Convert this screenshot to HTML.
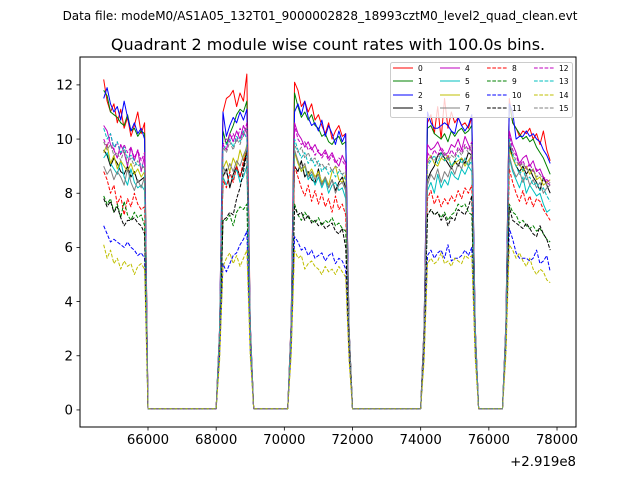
<!DOCTYPE html>
<html><head><meta charset="utf-8"><style>
body{margin:0;background:#fff;}
svg{display:block;font-family:"DejaVu Sans","Liberation Sans",sans-serif;}
</style></head><body>
<svg id="chart" width="640" height="480" xmlns="http://www.w3.org/2000/svg">
<rect width="640" height="480" fill="#fff"/>
<text x="320" y="20" font-size="12" text-anchor="middle">Data file: modeM0/AS1A05_132T01_9000002828_18993cztM0_level2_quad_clean.evt</text>
<text x="328" y="50" font-size="16" text-anchor="middle">Quadrant 2 module wise count rates with 100.0s bins.</text>
<g id="plot"></g>
<rect x="80" y="57" width="496" height="370" fill="none" stroke="#000" stroke-width="1"/>
<g id="ticks"></g>
<text x="576" y="466" font-size="13.3" text-anchor="end">+2.919e8</text>
<g id="legend"></g>
</svg>
<script>
const times=[64700,64800,64900,65000,65100,65200,65300,65400,65500,65600,65700,65800,65900,66000,
68000,68100,68200,68300,68400,68500,68600,68700,68800,68900,69000,69100,
70100,70200,70300,70400,70500,70600,70700,70800,70900,71000,71100,71200,71300,71400,71500,71600,71700,71800,71900,72000,
74000,74100,74200,74300,74400,74500,74600,74700,74800,74900,75000,75100,75200,75300,75400,75500,75600,75700,
76400,76500,76600,76700,76800,76900,77000,77100,77200,77300,77400,77500,77600,77700,77800];
const s0=[12.2,11.4,11.0,11.3,10.6,11.1,10.4,10.8,10.1,10.5,11.0,10.2,10.6,0.05, 0.05,3.0,11.0,11.5,11.6,11.8,11.2,11.7,11.4,12.4,3.2,0.05, 0.05,3.3,12.1,11.8,11.2,11.4,11.0,11.3,10.7,10.9,10.5,10.2,10.6,10.0,10.3,10.5,10.1,10.2,3.0,0.05, 0.05,3.1,10.6,10.9,10.2,11.2,10.0,11.5,10.4,11.0,10.6,10.8,10.5,10.6,10.4,10.8,3.1,0.05, 0.05,3.2,11.5,10.6,10.4,10.1,10.3,10.2,10.4,10.0,10.2,9.8,10.3,9.6,9.2];
const s1=[11.8,11.6,11.0,10.9,10.8,10.6,10.5,10.9,10.3,10.4,10.1,10.3,10.2,0.05, 0.05,2.9,10.3,9.8,10.2,10.5,10.9,11.1,11.0,11.4,3.1,0.05, 0.05,3.2,11.7,11.2,10.8,11.0,10.7,10.9,10.5,10.4,10.1,10.2,9.9,9.8,10.0,10.1,9.8,9.9,3.0,0.05, 0.05,3.0,10.4,10.5,10.2,10.1,10.0,10.2,9.9,10.3,10.1,10.3,10.4,10.2,10.3,10.5,3.0,0.05, 0.05,3.1,11.3,10.6,10.4,10.2,10.0,10.1,9.9,10.0,9.7,9.5,9.3,9.0,8.7];
const s2=[11.5,11.9,11.3,11.0,11.2,10.7,11.4,10.8,10.3,10.6,10.2,10.4,10.0,0.05, 0.05,3.0,11.0,10.1,10.5,10.8,10.6,11.0,10.7,11.1,3.2,0.05, 0.05,3.2,11.0,11.3,10.9,11.4,10.8,10.5,10.6,10.3,10.7,10.1,10.5,10.2,9.8,10.3,9.9,10.2,3.0,0.05, 0.05,3.1,11.0,10.6,10.4,10.4,10.5,10.6,10.5,10.3,10.2,10.8,10.5,10.3,10.5,10.9,3.1,0.05, 0.05,3.2,11.3,11.0,10.0,10.1,10.1,10.3,10.1,10.2,10.0,9.9,9.6,9.4,9.1];
const s3=[9.6,9.4,9.0,9.3,9.1,8.8,8.7,9.0,8.6,8.8,8.4,8.5,8.6,0.05, 0.05,2.8,8.6,8.9,8.2,8.7,9.0,8.6,9.0,9.6,3.0,0.05, 0.05,3.0,9.0,8.8,9.2,8.6,8.8,8.5,8.4,8.9,8.3,8.6,8.2,8.5,8.1,8.4,8.6,8.2,2.9,0.05, 0.05,2.9,8.5,8.8,9.0,9.4,9.5,9.3,9.1,8.9,9.2,9.0,9.3,9.1,9.5,9.4,3.0,0.05, 0.05,3.0,9.8,9.3,9.0,8.8,9.0,8.7,8.9,8.6,8.4,8.1,8.6,8.3,8.0];
const s4=[10.5,10.3,9.8,9.6,9.3,9.8,9.5,9.0,9.7,9.2,9.6,8.8,9.4,0.05, 0.05,2.9,9.8,9.6,10.2,9.9,10.3,10.0,10.5,10.2,3.1,0.05, 0.05,3.1,10.6,10.2,10.0,9.7,9.9,9.6,9.8,9.5,9.4,9.6,9.3,9.5,9.2,9.0,9.4,9.1,2.9,0.05, 0.05,3.0,9.8,9.6,9.7,9.9,9.6,9.4,9.5,9.8,9.7,10.0,9.6,10.1,9.8,9.5,3.0,0.05, 0.05,3.1,10.3,9.8,9.5,9.1,9.3,9.4,9.0,9.2,8.8,8.9,8.6,8.4,8.3];
const s5=[9.3,9.5,9.1,8.9,8.7,9.2,8.6,8.3,8.9,8.4,8.2,8.3,8.1,0.05, 0.05,2.8,8.6,8.3,8.7,8.5,8.9,8.4,8.6,9.0,3.0,0.05, 0.05,3.0,9.5,9.2,8.8,9.0,8.5,8.7,8.3,8.6,8.2,8.5,8.0,8.3,8.4,8.1,8.2,7.8,2.8,0.05, 0.05,2.8,8.1,8.4,8.0,8.7,8.2,8.5,8.3,8.8,8.6,8.5,8.9,8.7,9.0,8.8,2.9,0.05, 0.05,3.0,9.3,8.8,8.5,8.2,8.6,8.0,8.3,8.1,7.9,8.0,7.6,7.3,7.4];
const s6=[9.5,9.8,9.1,9.4,8.9,9.2,9.0,8.8,9.1,8.7,8.9,8.6,8.8,0.05, 0.05,2.9,8.9,9.2,8.8,9.3,9.0,9.6,9.2,9.8,3.0,0.05, 0.05,3.0,9.5,9.1,8.8,9.0,8.7,8.9,8.6,8.8,8.4,8.6,8.3,8.8,9.0,8.5,8.4,8.7,2.9,0.05, 0.05,3.0,9.2,9.4,9.1,9.0,9.3,9.2,9.4,9.0,9.1,9.2,9.3,9.0,9.2,9.4,3.0,0.05, 0.05,3.0,9.6,9.3,9.0,9.1,8.8,9.0,8.7,8.9,8.5,8.6,8.3,8.4,8.5];
const s7=[9.0,8.7,8.9,8.5,8.8,8.6,8.3,8.9,8.4,8.1,8.5,8.2,8.6,0.05, 0.05,2.8,9.0,8.7,9.1,8.8,9.2,9.0,9.4,9.7,3.0,0.05, 0.05,3.0,9.6,9.2,8.9,9.1,8.6,8.8,8.5,8.7,8.3,8.6,8.2,8.5,8.0,8.3,8.4,8.1,2.9,0.05, 0.05,2.9,8.3,8.7,8.5,8.9,8.4,8.8,8.6,9.0,8.7,9.1,8.9,9.3,9.0,9.5,3.0,0.05, 0.05,3.0,9.4,8.9,8.6,8.8,8.4,8.7,8.3,8.5,8.2,8.4,8.0,8.2,8.3];
const s8=[8.8,8.5,8.0,8.3,7.6,7.9,7.2,7.8,7.5,8.0,7.6,7.4,7.5,0.05, 0.05,2.7,8.5,8.2,8.8,8.4,9.0,8.6,9.2,9.5,2.9,0.05, 0.05,2.9,9.0,8.6,8.2,7.9,8.3,7.7,8.1,7.6,8.0,7.5,7.8,7.3,7.9,7.4,7.6,7.2,2.7,0.05, 0.05,2.7,7.8,8.1,7.6,7.9,7.5,7.8,7.6,7.9,7.7,8.1,7.8,8.2,8.0,8.3,2.8,0.05, 0.05,2.9,8.9,8.4,8.0,7.7,8.1,7.6,7.9,7.5,7.8,7.7,7.4,7.2,7.0];
const s9=[7.9,7.6,7.8,7.3,7.6,7.1,7.7,7.2,7.0,7.3,7.1,7.2,6.8,0.05, 0.05,2.4,7.0,7.0,7.2,6.8,7.3,7.5,7.4,7.6,2.6,0.05, 0.05,2.6,7.6,7.2,7.0,7.3,7.1,7.0,6.9,7.1,6.8,7.0,6.9,7.1,6.8,6.9,6.7,6.6,2.4,0.05, 0.05,2.4,7.2,7.4,7.2,7.3,7.1,7.3,7.0,7.2,7.3,7.6,7.5,7.6,7.3,7.2,2.5,0.05, 0.05,2.6,7.6,7.3,7.2,6.9,7.0,6.8,6.7,6.8,6.6,6.7,6.5,6.3,6.2];
const s10=[6.8,6.5,6.2,6.3,6.2,6.1,6.0,6.2,6.0,5.9,5.7,5.8,5.6,0.05, 0.05,2.0,5.4,5.1,5.4,5.7,5.8,6.1,6.3,6.6,2.2,0.05, 0.05,2.2,6.4,6.2,5.9,6.0,5.7,5.9,5.6,5.7,5.8,5.5,5.7,5.8,5.4,5.6,5.5,5.2,2.0,0.05, 0.05,2.0,5.7,5.9,5.6,5.8,5.9,5.6,6.1,5.5,5.6,5.6,5.7,5.9,5.7,6.0,2.1,0.05, 0.05,2.2,6.7,6.3,5.8,5.6,5.6,5.6,5.5,5.6,5.9,5.4,5.5,5.7,5.1];
const s11=[7.8,7.5,7.7,7.3,7.5,7.1,6.8,7.0,7.0,7.1,6.9,6.8,6.5,0.05, 0.05,2.5,7.0,7.1,7.3,7.2,7.8,8.2,8.8,9.5,2.8,0.05, 0.05,2.7,7.5,7.2,7.3,7.0,7.2,6.9,7.0,6.8,6.9,6.7,6.8,6.9,6.6,6.5,6.7,6.0,2.4,0.05, 0.05,2.5,7.2,7.4,7.2,7.3,7.0,7.2,6.8,7.1,7.0,7.4,7.3,7.2,7.5,7.9,2.7,0.05, 0.05,2.6,7.5,7.0,6.9,6.8,6.7,6.9,6.7,6.5,6.4,6.8,6.5,6.3,5.9];
const s12=[10.0,9.7,10.2,9.6,9.9,9.4,9.8,9.5,9.7,9.3,9.6,9.2,9.5,0.05, 0.05,2.9,9.8,10.0,9.9,10.2,9.9,10.4,10.1,10.6,3.0,0.05, 0.05,3.0,10.5,10.0,9.8,9.9,9.6,9.7,9.4,9.6,9.3,9.5,9.2,9.4,9.1,9.3,9.2,9.0,2.9,0.05, 0.05,2.9,9.5,9.3,9.6,9.4,9.7,9.5,9.3,9.6,9.4,9.7,9.5,9.8,9.6,9.9,3.0,0.05, 0.05,3.0,10.2,9.6,9.4,9.0,9.2,8.9,9.1,8.8,8.9,8.7,8.6,8.5,8.4];
const s13=[10.4,10.0,10.2,9.7,9.9,9.5,9.7,9.3,9.4,9.2,9.0,9.1,8.9,0.05, 0.05,2.9,9.6,9.8,10.0,9.7,10.1,9.9,10.3,10.0,3.0,0.05, 0.05,3.0,10.0,9.6,9.3,9.5,9.1,9.3,9.0,9.2,8.8,9.0,8.7,8.9,8.6,8.8,8.7,8.5,2.9,0.05, 0.05,2.9,9.0,9.2,9.4,9.1,9.5,9.2,9.3,9.0,9.2,9.4,9.1,9.3,9.0,9.2,3.0,0.05, 0.05,3.0,10.0,9.4,9.0,8.7,8.9,8.5,8.6,8.3,8.4,8.1,8.2,7.9,7.7];
const s14=[6.1,5.6,5.9,5.4,5.6,5.2,5.5,5.3,5.4,5.0,5.3,5.4,5.2,0.05, 0.05,1.8,5.3,5.6,5.8,5.4,5.7,5.3,5.6,5.9,2.0,0.05, 0.05,2.0,5.9,5.6,5.7,5.2,5.4,5.5,5.3,5.2,5.0,5.3,5.1,5.2,5.0,5.3,5.1,4.9,1.8,0.05, 0.05,1.8,5.4,5.6,5.4,5.5,5.8,5.4,5.5,5.3,5.6,5.5,5.4,5.7,5.6,5.7,1.9,0.05, 0.05,2.0,6.1,5.9,5.6,5.8,5.5,5.3,5.6,5.2,5.0,5.2,5.1,4.8,4.7];
const s15=[9.9,9.6,9.8,9.4,9.5,9.2,9.6,9.1,9.3,9.0,9.2,8.9,9.0,0.05, 0.05,2.9,9.7,9.5,9.9,9.6,10.0,9.8,10.2,10.4,3.0,0.05, 0.05,3.0,9.8,9.5,9.7,9.3,9.5,9.2,9.3,9.0,9.1,8.9,9.1,8.8,9.0,8.9,8.7,8.8,2.9,0.05, 0.05,2.9,9.1,9.3,9.2,9.4,9.3,9.5,9.2,9.4,9.3,9.6,9.4,9.7,9.5,9.8,3.0,0.05, 0.05,3.0,9.9,9.5,9.2,9.0,9.1,8.9,8.8,8.9,8.6,8.7,8.5,8.3,8.4];
const seriesNames=["0","1","2","3","4","5","6","7","8","9","10","11","12","13","14","15"];
const seriesValues=[s0,s1,s2,s3,s4,s5,s6,s7,s8,s9,s10,s11,s12,s13,s14,s15];
const xTicks=[66000,68000,70000,72000,74000,76000,78000];
const yTicks=[0,2,4,6,8,10,12];

const colors=["#ff0000","#008000","#0000ff","#000000","#bf00bf","#00bfbf","#bfbf00","#808080"];
const NS="http://www.w3.org/2000/svg";
const X0=80,X1=576,Y0=427,Y1=57,xmin=64005,xmax=78557,ymin=-0.63,ymax=13.03;
function xs(v){return X0+(v-xmin)/(xmax-xmin)*(X1-X0);}
function ys(v){return Y0-(v-ymin)/(ymax-ymin)*(Y0-Y1);}
function mk(tag,attrs,parent){const e=document.createElementNS(NS,tag);for(const k in attrs)e.setAttribute(k,attrs[k]);parent.appendChild(e);return e;}
const plot=document.getElementById('plot');
seriesValues.forEach((vals,i)=>{
  const n=Math.min(vals.length,times.length);
  let d="";
  for(let j=0;j<n;j++){d+=(j?"L":"M")+xs(times[j]).toFixed(2)+","+ys(vals[j]).toFixed(2);}
  const p=mk('path',{d:d,fill:"none",stroke:colors[i%8],"stroke-width":1,"stroke-linejoin":"round"},plot);
  if(i>=8)p.setAttribute('stroke-dasharray','3.7,1.6');
  
  
});
const tk=document.getElementById('ticks');
xTicks.forEach(v=>{
  const x=xs(v);
  const l=mk('line',{x1:x,y1:Y0,x2:x,y2:Y0+3.5,stroke:"#000","stroke-width":0.8},tk);
  
  
  const t=mk('text',{x:x,y:Y0+17,"font-size":13.3,"text-anchor":"middle"},tk);
  t.textContent=v;
  
  
});
yTicks.forEach(v=>{
  const y=ys(v);
  const l=mk('line',{x1:X0-3.5,y1:y,x2:X0,y2:y,stroke:"#000","stroke-width":0.8},tk);
  
  
  const t=mk('text',{x:X0-7,y:y+4.8,"font-size":13.3,"text-anchor":"end"},tk);
  t.textContent=v;
  
  
});
const lg=document.getElementById('legend');
const box=mk('rect',{x:390.5,y:62.5,width:182,height:55,rx:2,fill:"#fff","fill-opacity":0.8,stroke:"#ccc","stroke-width":1},lg);


const colX=[393,440,487,534],rowY=[68,81,95,108];
seriesNames.forEach((nm,i)=>{
  const c=Math.floor(i/4),r=i%4;
  const ln=mk('line',{x1:colX[c],y1:rowY[r],x2:colX[c]+20,y2:rowY[r],stroke:colors[i%8],"stroke-width":1},lg);
  if(i>=8)ln.setAttribute('stroke-dasharray','3.7,1.6');
  
  
  const t=mk('text',{x:colX[c]+25,y:rowY[r]+2.8,"font-size":7.5},lg);
  t.textContent=nm;
  
  
});
</script>
</body></html>
